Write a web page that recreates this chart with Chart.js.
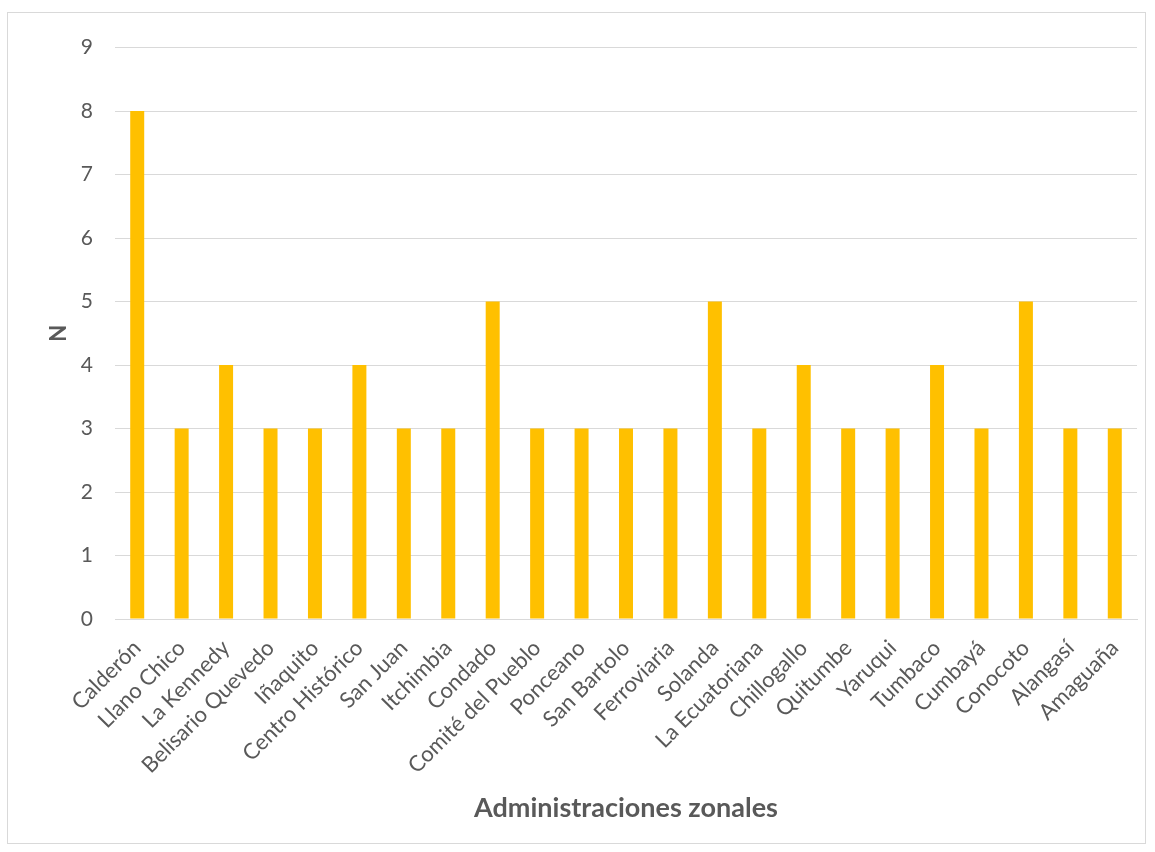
<!DOCTYPE html>
<html>
<head>
<meta charset="utf-8">
<script src="https://cdn.jsdelivr.net/npm/chart.js@4/dist/chart.umd.min.js"></script>
<style>
  body { margin: 0; background: #fff; }
  #box {
    position: absolute; left: 7px; top: 12px;
    width: 1139px; height: 832px;
    border: 1px solid #d9d9d9; box-sizing: border-box;
  }
</style>
</head>
<body>
<div id="box"><canvas id="zonas"></canvas></div>
<script>
const categories = [
  'Calderón', 'Llano Chico', 'La Kennedy', 'Belisario Quevedo', 'Iñaquito',
  'Centro Histórico', 'San Juan', 'Itchimbia', 'Condado', 'Comité del Pueblo',
  'Ponceano', 'San Bartolo', 'Ferroviaria', 'Solanda', 'La Ecuatoriana',
  'Chillogallo', 'Quitumbe', 'Yaruqui', 'Tumbaco', 'Cumbayá',
  'Conocoto', 'Alangasí', 'Amaguaña'
];
const counts = [8, 3, 4, 3, 3, 4, 3, 3, 5, 3, 3, 3, 3, 5, 3, 4, 3, 3, 4, 3, 5, 3, 3];
const yTicks = [0, 1, 2, 3, 4, 5, 6, 7, 8, 9];

document.addEventListener('DOMContentLoaded', function() {
  const font = "Lato, 'Open Sans', sans-serif";
  const ctx = document.getElementById('zonas');
  const box = document.getElementById('box');
  ctx.width = box.clientWidth;
  ctx.height = box.clientHeight;

  new Chart(ctx, {
    type: 'bar',
    data: {
      labels: categories,
      datasets: [{
        label: 'N',
        data: counts,
        backgroundColor: '#FFC000',
        categoryPercentage: 1,
        barPercentage: 0.315
      }]
    },
    options: {
      responsive: false,
      animation: false,
      layout: {
        padding: { left: 38, right: 8, top: 14, bottom: 19 }
      },
      plugins: {
        legend: { display: false },
        tooltip: { enabled: false }
      },
      scales: {
        x: {
          afterFit: function(axis) { axis.height = 205; },
          grid: { display: false },
          border: { color: '#d9d9d9', width: 1 },
          ticks: {
            color: '#595959',
            font: { size: 22, family: font },
            maxRotation: 45,
            minRotation: 45,
            autoSkip: false,
            padding: 8
          },
          title: {
            display: true,
            text: 'Administraciones zonales',
            color: '#595959',
            font: { size: 27, weight: 'bold', family: font },
            padding: { top: 16, bottom: 0 }
          }
        },
        y: {
          min: 0,
          max: 9,
          afterFit: function(axis) { axis.width = 69; },
          afterBuildTicks: function(axis) {
            axis.ticks = yTicks.map(function(v) { return { value: v }; });
          },
          grid: { color: '#d9d9d9', drawTicks: false },
          border: { display: false },
          ticks: {
            color: '#595959',
            font: { size: 21, family: font },
            padding: 22
          },
          title: {
            display: true,
            text: 'N',
            color: '#595959',
            font: { size: 22, weight: 'bold', family: font },
            padding: { top: 0, bottom: 0 }
          }
        }
      }
    }
  });
});
</script>
</body>
</html>
